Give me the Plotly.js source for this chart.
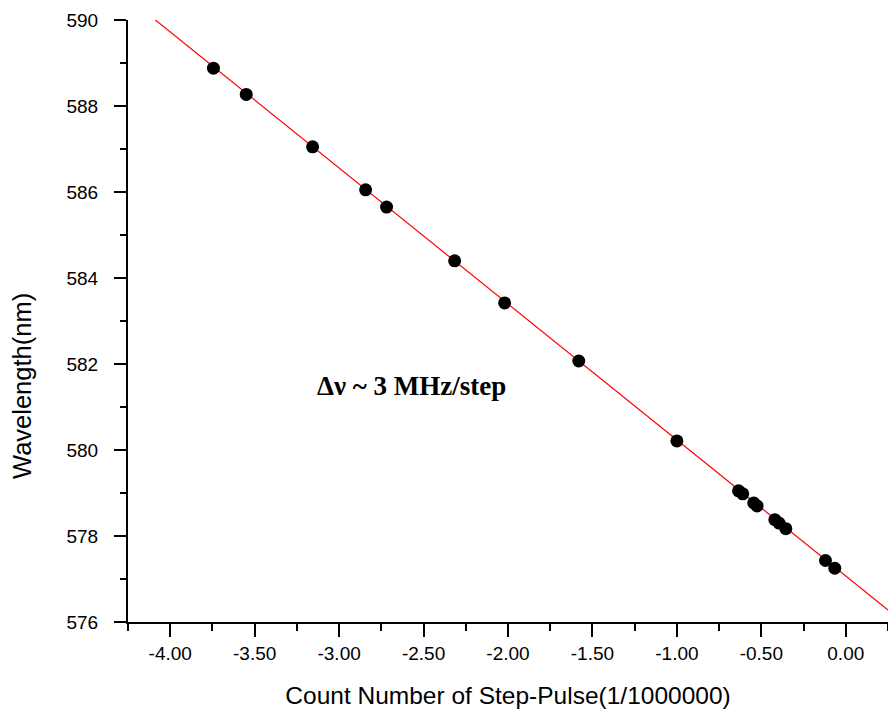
<!DOCTYPE html>
<html>
<head>
<meta charset="utf-8">
<script src="https://cdn.plot.ly/plotly-3.0.1.min.js"></script>
<style>html,body{margin:0;padding:0;background:#fff;}#chart{width:888px;height:713px;}</style>
</head>
<body>
<div id="chart"></div>
<script>
// Measured points: count number of step-pulse (1/1000000) vs wavelength (nm)
var countNumber = [-3.744, -3.550, -3.157, -2.843, -2.719, -2.316, -2.020, -1.581, -1.000,
                   -0.635, -0.610, -0.545, -0.525, -0.420, -0.395, -0.355, -0.120, -0.065];
var wavelength  = [588.88, 588.27, 587.05, 586.05, 585.65, 584.40, 583.42, 582.07, 580.21,
                   579.05, 578.98, 578.77, 578.70, 578.38, 578.30, 578.17, 577.43, 577.25];
// Linear fit line end points
var fitX = [-4.11, 0.25];
var fitY = [590.07, 576.28];
// Tick labels
var xTickVals = [-4.0, -3.5, -3.0, -2.5, -2.0, -1.5, -1.0, -0.5, 0.0];
var xTickText = ["-4.00", "-3.50", "-3.00", "-2.50", "-2.00", "-1.50", "-1.00", "-0.50", "0.00"];
var yTickVals = [576, 578, 580, 582, 584, 586, 588, 590];
var yTickText = ["576", "578", "580", "582", "584", "586", "588", "590"];

var traces = [
  {x: fitX, y: fitY, mode: 'lines', type: 'scatter',
   line: {color: '#ff0000', width: 1.2}, hoverinfo: 'skip'},
  {x: countNumber, y: wavelength, mode: 'markers', type: 'scatter',
   marker: {color: '#000000', size: 13}, cliponaxis: false}
];

var axisFont = {family: 'Liberation Sans, Arial, sans-serif', size: 19, color: '#000'};
var layout = {
  width: 888, height: 713,
  margin: {l: 128, r: 0, t: 20, b: 91, pad: 0},
  paper_bgcolor: '#fff', plot_bgcolor: '#fff',
  showlegend: false,
  xaxis: {
    range: [-4.25, 0.25], showgrid: false, zeroline: false,
    showline: true, linecolor: '#000', linewidth: 2,
    ticks: 'outside', ticklen: 13, tickwidth: 2, tickcolor: '#000',
    tickmode: 'array', tickvals: xTickVals, ticktext: xTickText,
    ticklabelstandoff: 0,
    minor: {dtick: 0.25, tick0: 0, ticks: 'outside', ticklen: 7, tickwidth: 2, tickcolor: '#000', showgrid: false},
    tickfont: axisFont,
    title: {text: 'Count Number of Step-Pulse(1/1000000)', standoff: 24,
            font: {family: 'Liberation Sans, Arial, sans-serif', size: 24.5, color: '#000'}}
  },
  yaxis: {
    range: [576, 590], showgrid: false, zeroline: false,
    showline: true, linecolor: '#000', linewidth: 2,
    ticks: 'outside', ticklen: 12, tickwidth: 2, tickcolor: '#000',
    tickmode: 'array', tickvals: yTickVals, ticktext: yTickText,
    ticklabelstandoff: 12,
    minor: {dtick: 1, tick0: 576, ticks: 'outside', ticklen: 6, tickwidth: 2, tickcolor: '#000', showgrid: false},
    tickfont: axisFont
  },
  annotations: [{
    x: -2.574, y: 581.49, xref: 'x', yref: 'y', xanchor: 'center', yanchor: 'middle',
    text: '<b>Δν ~ 3 MHz/step</b>', showarrow: false,
    font: {family: 'Liberation Serif, Times New Roman, serif', size: 27, color: '#000'}
  }, {
    x: -0.1395, y: 0.392, xref: 'paper', yref: 'paper', xanchor: 'center', yanchor: 'middle',
    text: 'Wavelength(nm)', textangle: -90, showarrow: false,
    font: {family: 'Liberation Sans, Arial, sans-serif', size: 25.5, color: '#000'}
  }]
};

Plotly.newPlot('chart', traces, layout, {displayModeBar: false, staticPlot: true});
</script>
</body>
</html>
